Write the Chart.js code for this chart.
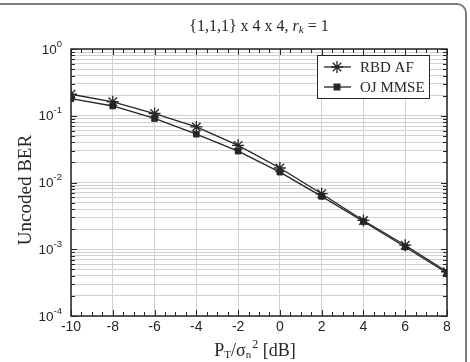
<!DOCTYPE html>
<html lang="en">
<head>
<meta charset="UTF-8" />
<title>Uncoded BER</title>
<script src="https://cdn.jsdelivr.net/npm/chart.js"></script>
<style>
  html, body { margin: 0; padding: 0; background: #fff; }
</style>
</head>
<body>
<canvas id="berChart" width="470" height="362"></canvas>
<script>
  // values
  const snrDb = [-10, -8, -6, -4, -2, 0, 2, 4, 6, 8];
  const rbdAf = [0.21, 0.162, 0.108, 0.068, 0.036, 0.0165, 0.0068, 0.0027, 0.00115, 0.00046];
  const ojMmse = [0.18, 0.14, 0.091, 0.053, 0.0295, 0.0143, 0.0062, 0.0026, 0.00108, 0.00044];
  const xTicks = [-10, -8, -6, -4, -2, 0, 2, 4, 6, 8];
  const yExponents = [0, -1, -2, -3, -4];
  const seriesNames = ['RBD AF', 'OJ MMSE'];

  const INK = '#262626';
  const SERIF = '"Liberation Serif", "DejaVu Serif", serif';
  const SANS = '"Liberation Sans", Arial, sans-serif';

  function logTicks() {
    const t = [];
    for (let e = -4; e < 0; e++) {
      for (let m = 1; m < 10; m++) t.push({ value: m * Math.pow(10, e) });
    }
    t.push({ value: 1 });
    return t;
  }

  function drawMarker(ctx, style, r, x, y) {
    Chart.helpers.drawPoint(ctx, { pointStyle: style, radius: r, borderWidth: 1.3, rotation: 0 }, x, y);
  }

  // draws a run of text pieces (sub/superscripts) centred on cx
  function drawRun(ctx, parts, cx, cy) {
    ctx.textAlign = 'left';
    ctx.textBaseline = 'middle';
    const widths = parts.map(p => { ctx.font = p.f; return ctx.measureText(p.t).width + (p.gap || 0); });
    const total = widths.reduce((s, w) => s + w, 0);
    let x = cx - total / 2;
    parts.forEach((p, i) => {
      ctx.font = p.f;
      ctx.fillStyle = INK;
      ctx.fillText(p.t, x + (p.gap || 0), cy + p.dy);
      x += widths[i];
    });
  }

  const decorations = {
    id: 'decorations',
    beforeDraw(chart) {
      const ctx = chart.ctx;
      ctx.save();
      // figure frame (top and right edge with rounded corner)
      ctx.strokeStyle = '#7a7a7a';
      ctx.lineWidth = 2;
      ctx.beginPath();
      ctx.moveTo(0, 4);
      ctx.lineTo(457, 4);
      ctx.arcTo(466, 4, 466, 13, 9);
      ctx.lineTo(466, 362);
      ctx.stroke();
      ctx.restore();
    },
    afterDraw(chart) {
      const ctx = chart.ctx;
      const a = chart.chartArea;
      const xs = chart.scales.x;
      const ys = chart.scales.y;
      ctx.save();

      // box
      ctx.strokeStyle = INK;
      ctx.lineWidth = 1.5;
      ctx.strokeRect(a.left, a.top, a.right - a.left, a.bottom - a.top);

      // inward ticks
      ctx.lineWidth = 1;
      ctx.beginPath();
      logTicks().forEach(t => {
        const y = Math.round(ys.getPixelForValue(t.value)) + 0.5;
        const major = Math.abs(Math.log10(t.value) % 1) < 1e-9;
        const len = major ? 6 : 4;
        ctx.moveTo(a.left, y); ctx.lineTo(a.left + len, y);
        ctx.moveTo(a.right, y); ctx.lineTo(a.right - len, y);
      });
      for (let v = xs.min; v <= xs.max + 1e-9; v += 0.5) {
        const x = Math.round(xs.getPixelForValue(v)) + 0.5;
        const len = Number.isInteger(v / 2) ? 6 : 4;
        ctx.moveTo(x, a.bottom); ctx.lineTo(x, a.bottom - len);
        ctx.moveTo(x, a.top); ctx.lineTo(x, a.top + len);
      }
      ctx.stroke();

      // y tick labels 10^k
      ctx.fillStyle = INK;
      ctx.textBaseline = 'middle';
      yExponents.forEach(e => {
        const y = ys.getPixelForValue(Math.pow(10, e));
        const exp = String(e);
        ctx.font = '9.5px ' + SANS;
        const ew = ctx.measureText(exp).width;
        ctx.textAlign = 'left';
        ctx.fillText(exp, 62 - ew, y - 5);
        ctx.font = '13.5px ' + SANS;
        ctx.textAlign = 'right';
        ctx.fillText('10', 62 - ew, y + 1);
      });

      // x tick labels
      ctx.font = '14px ' + SANS;
      ctx.textAlign = 'center';
      xTicks.forEach(v => {
        ctx.fillText(String(v), xs.getPixelForValue(v), a.bottom + 11);
      });

      // title: {1,1,1} x 4 x 4, r_k = 1
      const cx = (a.left + a.right) / 2;
      drawRun(ctx, [
        { t: '{1,1,1} x 4 x 4, ', f: '16px ' + SERIF, dy: 0 },
        { t: 'r', f: 'italic 16px ' + SERIF, dy: 0 },
        { t: 'k', f: 'italic 11px ' + SERIF, dy: 3 },
        { t: ' = 1', f: '16px ' + SERIF, dy: 0 }
      ], cx, 27);

      // x axis title: P_T / sigma_n^2 [dB]
      drawRun(ctx, [
        { t: 'P', f: '18px ' + SERIF, dy: 0 },
        { t: 'T', f: '11px ' + SERIF, dy: 4 },
        { t: '/\u03c3', f: '18px ' + SERIF, dy: 0 },
        { t: 'n', f: '11px ' + SERIF, dy: 4 },
        { t: '2', f: '12px ' + SERIF, dy: -6, gap: 1 },
        { t: ' [dB]', f: '18px ' + SERIF, dy: 0 }
      ], 255, 351);

      // y axis title
      ctx.save();
      ctx.translate(26, 190);
      ctx.rotate(-Math.PI / 2);
      ctx.font = '19px ' + SERIF;
      ctx.textAlign = 'center';
      ctx.textBaseline = 'middle';
      ctx.fillStyle = INK;
      ctx.fillText('Uncoded BER', 0, 0);
      ctx.restore();

      // legend
      const lx = 317, ly = 55, lw = 112, lh = 43;
      ctx.fillStyle = '#fff';
      ctx.fillRect(lx, ly, lw, lh);
      ctx.strokeStyle = INK;
      ctx.lineWidth = 1;
      ctx.strokeRect(lx + 0.5, ly + 0.5, lw, lh);
      chart.data.datasets.forEach((ds, i) => {
        const y = ly + 12 + i * 20;
        ctx.strokeStyle = INK;
        ctx.fillStyle = INK;
        ctx.lineWidth = 1.3;
        ctx.beginPath();
        ctx.moveTo(lx + 7, y); ctx.lineTo(lx + 34, y);
        ctx.stroke();
        drawMarker(ctx, ds.pointStyle, ds.pointRadius, lx + 20, y);
        ctx.fillStyle = INK;
        ctx.font = '15px ' + SERIF;
        ctx.textAlign = 'left';
        ctx.textBaseline = 'middle';
        ctx.fillText(ds.label, lx + 43, y + 1);
      });

      ctx.restore();
    }
  };

  const ctx = document.getElementById('berChart').getContext('2d');
  new Chart(ctx, {
    type: 'line',
    data: {
      datasets: [
        {
          label: seriesNames[0],
          data: snrDb.map((x, i) => ({ x, y: rbdAf[i] })),
          borderColor: INK,
          backgroundColor: INK,
          borderWidth: 1.3,
          pointStyle: 'star',
          pointRadius: 6,
          pointBorderWidth: 1.3,
          tension: 0
        },
        {
          label: seriesNames[1],
          data: snrDb.map((x, i) => ({ x, y: ojMmse[i] })),
          borderColor: INK,
          backgroundColor: INK,
          borderWidth: 1.3,
          pointStyle: 'rect',
          pointRadius: 4,
          pointBorderWidth: 1,
          tension: 0
        }
      ]
    },
    options: {
      responsive: false,
      animation: false,
      devicePixelRatio: 1,
      layout: { padding: { left: 71, right: 23, top: 49, bottom: 46 } },
      plugins: { legend: { display: false }, tooltip: { enabled: false } },
      scales: {
        x: {
          type: 'linear',
          min: -10,
          max: 8,
          afterBuildTicks: s => { s.ticks = xTicks.map(v => ({ value: v })); },
          ticks: { display: false },
          grid: { color: '#d0d0d0', lineWidth: 1, drawTicks: false },
          border: { display: false }
        },
        y: {
          type: 'logarithmic',
          min: 1e-4,
          max: 1,
          afterBuildTicks: s => { s.ticks = logTicks(); },
          ticks: { display: false },
          grid: { color: '#d0d0d0', lineWidth: 1, drawTicks: false },
          border: { display: false }
        }
      }
    },
    plugins: [decorations]
  });
</script>
</body>
</html>
